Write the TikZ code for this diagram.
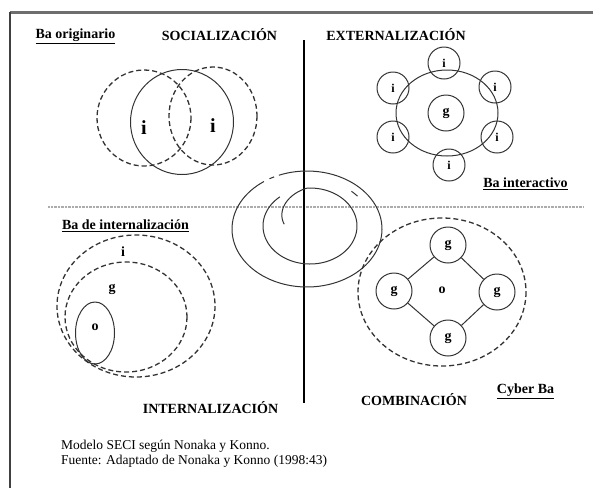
\documentclass[tikz,border=0pt]{standalone}
\usepackage{fontspec}
\setmainfont{Liberation Serif}
\usepackage{tikz}
\usetikzlibrary{shapes.geometric}

\begin{document}
\begin{tikzpicture}[x=1pt,y=-1pt,
  lineCol/.style={color=black!80, line width=1pt},
  dashRing/.style={color=black!80, line width=1.3pt, dash pattern=on 5pt off 3pt},
  smallBall/.style={draw, lineCol, circle, inner sep=0pt, minimum size=32pt, text=black, font=\bfseries\fontsize{12}{14}\selectfont},
  gBall/.style={draw, lineCol, circle, inner sep=0pt, minimum size=36pt, text=black, font=\bfseries\fontsize{14}{16}\selectfont},
  modeTitle/.style={inner sep=0pt, font=\bfseries\fontsize{14}{16}\selectfont},
  letterTxt/.style={inner sep=0pt, font=\bfseries\fontsize{14}{16}\selectfont},
  capTxt/.style={inner sep=0pt, anchor=base west, font=\fontsize{13.5}{15}\selectfont}]
\useasboundingbox (0,0) rectangle (593,488);
\definecolor{frameColor}{RGB}{110,110,110}
\draw[color=frameColor, line width=3pt] (10,12) -- (593,12);
\draw[color=black!75, line width=2pt] (10,12) -- (10,488);
\draw[color=gray!65, line width=1.8pt, dash pattern=on 1pt off 0.4pt] (48,207) -- (583,207);
\draw[color=black, line width=1.3pt] (304,40) -- (304,403);
% socializacion
\draw[dashRing] (144,118) ellipse [x radius=47, y radius=48];
\draw[dashRing] (213,116) ellipse [x radius=44, y radius=49];
\draw[lineCol] (182,122) ellipse [x radius=51.5, y radius=52.5];
\node[letterTxt, font=\bfseries\fontsize{20}{22}\selectfont] (socI1) at (144,128) {i};
\node[letterTxt, font=\bfseries\fontsize{20}{22}\selectfont] (socI2) at (213,126) {i};
% externalizacion
\draw[lineCol] (447,113) ellipse [x radius=51, y radius=43];
\node[gBall] (extG) at (446,113) {g};
\foreach \n/\px/\py in {1/444/63, 2/495/87, 3/497/137, 4/449/165, 5/393/137, 6/393/88}
  \node[smallBall] (extI\n) at (\px,\py) {i};
% espiral
\draw[lineCol] plot[domain=112:-235, samples=100, variable=\t] ({307+75*cos(\t)}, {229-58*sin(\t)});
\draw[lineCol] plot[domain=120:116, samples=5, variable=\t] ({307+75*cos(\t)}, {229-58*sin(\t)});
\draw[lineCol] plot[domain=175:-230, samples=120, variable=\t] ({310+47*min(1,0.55+(175-\t)/180)*cos(\t)}, {226-38*min(1,0.55+(175-\t)/180)*sin(\t)});
\draw[lineCol] plot[domain=48:40, samples=5, variable=\t] ({310+62*cos(\t)}, {227-48*sin(\t)});
% internalizacion
\draw[dashRing] (136,306) ellipse [x radius=79, y radius=71];
\draw[dashRing] (126,317) ellipse [x radius=61, y radius=55];
\draw[lineCol] (95,333) ellipse [x radius=19.5, y radius=31];
\node[letterTxt] (intI) at (123,252) {i};
\node[letterTxt] (intG) at (112,289) {g};
\node[letterTxt] (intO) at (95,327) {o};
% combinacion
\draw[dashRing] (442,292) ellipse [x radius=84, y radius=74];
\node[gBall] (comTop) at (448,245) {g};
\node[gBall] (comLeft) at (394,291) {g};
\node[gBall] (comRight) at (497,292) {g};
\node[gBall] (comBottom) at (448,338) {g};
\node[letterTxt] (comO) at (442,290) {o};
\draw[lineCol] (comTop) -- (comLeft) (comTop) -- (comRight) (comLeft) -- (comBottom) (comRight) -- (comBottom);
% textos
\node[modeTitle] (baOrig) at (75.5,36) {\underline{Ba originario}};
\node[modeTitle] (socTitle) at (219.5,35) {SOCIALIZACIÓN};
\node[modeTitle] (extTitle) at (396,35) {EXTERNALIZACIÓN};
\node[modeTitle] (baInter) at (525.5,184) {\underline{Ba interactivo}};
\node[modeTitle] (baIntern) at (125.5,226) {\underline{Ba de internalización}};
\node[modeTitle] (intTitle) at (210.5,408) {INTERNALIZACIÓN};
\node[modeTitle] (comTitle) at (414,400) {COMBINACIÓN};
\node[modeTitle] (cyberBa) at (525.5,391) {\underline{Cyber Ba}};
\node[capTxt] (capA) at (61,449) {Modelo SECI según Nonaka y Konno.};
\node[capTxt] (capB) at (61,464) {Fuente: Adaptado de Nonaka y Konno (1998:43)};
\end{tikzpicture}
\end{document}
